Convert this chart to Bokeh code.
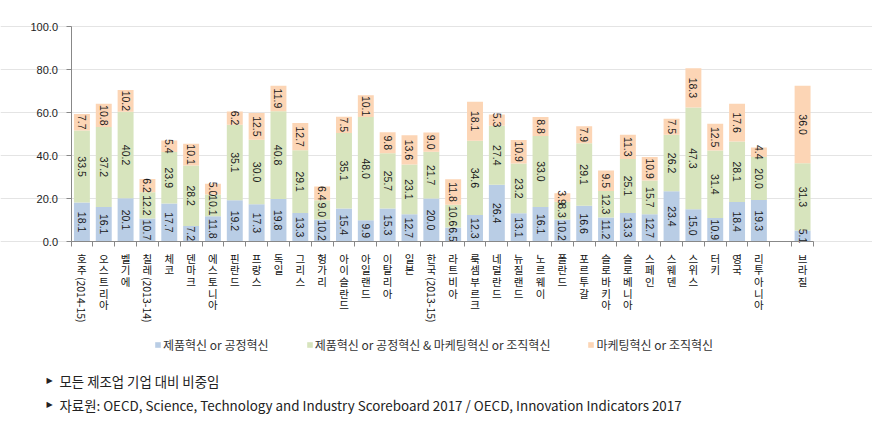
import numpy as np
from bokeh.plotting import figure
from bokeh.models import (ColumnDataSource, Range1d, FixedTicker, Label, Legend,
                          LegendItem, PrintfTickFormatter)
from bokeh.core.properties import value
from bokeh.embed import file_html
from bokeh.resources import INLINE

# ---------------- data ----------------
countries = ["호주(2014-15)", "오스트리아", "벨기에", "칠레(2013-14)", "체코", "덴마크",
             "에스토니아", "핀란드", "프랑스", "독일", "그리스", "헝가리", "아이슬란드",
             "아일랜드", "이탈리아", "일본", "한국(2013-15)", "라트비아", "룩셈부르크",
             "네덜란드", "뉴질랜드", "노르웨이", "폴란드", "포르투갈", "슬로바키아",
             "슬로베니아", "스페인", "스웨덴", "스위스", "터키", "영국", "리투아니아",
             "", "브라질"]
prod_or_proc = [18.1, 16.1, 20.1, 10.7, 17.7, 7.2, 11.8, 19.2, 17.3, 19.8, 13.3, 10.2, 15.4,
                9.9, 15.3, 12.7, 20.0, 6.5, 12.3, 26.4, 13.1, 16.1, 10.2, 16.6, 11.2,
                13.3, 12.7, 23.4, 15.0, 10.9, 18.4, 19.3, np.nan, 5.1]
both = [33.5, 37.2, 40.2, 12.2, 23.9, 28.2, 10.1, 35.1, 30.0, 40.8, 29.1, 9.0, 35.1,
        48.0, 25.7, 23.1, 21.7, 10.6, 34.6, 27.4, 23.2, 33.0, 8.3, 29.1, 12.3,
        25.1, 15.7, 26.2, 47.3, 31.4, 28.1, 20.0, np.nan, 31.3]
mkt_or_org = [7.7, 10.8, 10.2, 6.2, 5.4, 10.1, 5.0, 6.2, 12.5, 11.9, 12.7, 6.4, 7.5,
              10.1, 9.8, 13.6, 9.0, 11.8, 18.1, 5.3, 10.9, 8.8, 3.9, 7.9, 9.5,
              11.3, 10.9, 7.5, 18.3, 12.5, 17.6, 4.4, np.nan, 36.0]
series_names = ["제품혁신 or 공정혁신",
                "제품혁신 or 공정혁신 & 마케팅혁신 or 조직혁신",
                "마케팅혁신 or 조직혁신"]
colors = ["#B9CDE5", "#D7E4BD", "#FCD5B5"]
y_ticks = [0, 20, 40, 60, 80, 100]
bullet = "▶"
notes = ["모든 제조업 기업 대비 비중임",
         "자료원: OECD, Science, Technology and Industry Scoreboard 2017 / OECD, Innovation Indicators 2017"]

# ---------------- layout (pixels) ----------------
W, H = 872, 428
FL, FR = 70.5, 813.0      # left / right edge of plotting area
PY0, PY100 = 241.0, 26.0  # pixel rows of y=0 and y=100
KFONT = "Noto Sans CJK KR"

n = len(countries)
xs = np.arange(1, n + 1)
dx = (FR - FL) / n
dy = (PY0 - PY100) / 100.0
x_start = 0.5 - FL / dx
x_end = n + 0.5 + (W - FR) / dx
y_end = 100 + PY100 / dy
y_start = -(H - PY0) / dy


def sy(page_y):
    return H - page_y


a = np.array(prod_or_proc, dtype=float)
b = np.array(both, dtype=float)
c = np.array(mkt_or_org, dtype=float)

p = figure(width=W, height=H, output_backend="svg", toolbar_location=None,
           x_range=Range1d(x_start, x_end), y_range=Range1d(y_start, y_end),
           min_border=0, min_border_left=0, min_border_right=0,
           min_border_top=0, min_border_bottom=0)
p.outline_line_color = None
p.background_fill_color = "white"

src = ColumnDataSource(dict(x=xs, a=a, b=b, c=c))
rends = p.vbar_stack(["a", "b", "c"], x="x", width=0.73, source=src,
                     color=colors, line_color=None)

# value labels (rotated)
bottoms = [np.zeros(n), a, a + b]
vals = [a, b, c]
for bot, v in zip(bottoms, vals):
    m = ~np.isnan(v)
    lsrc = ColumnDataSource(dict(x=xs[m], y=(bot + v / 2)[m],
                                 t=["%.1f" % t for t in v[m]]))
    p.text(x="x", y="y", text="t", source=lsrc, angle=-np.pi / 2,
           text_align="center", text_baseline="middle",
           text_font=value("Liberation Sans"), text_font_size="10.5px",
           text_color="#1a1a1a")

# grid / axes
p.xgrid.visible = False
p.ygrid.ticker = FixedTicker(ticks=y_ticks)
p.ygrid.grid_line_color = "#E4E4E4"
p.ygrid.bounds = (0.5, n + 0.5)

yax = p.yaxis[0]
yax.fixed_location = 0.5
yax.bounds = (0, 100)
yax.ticker = FixedTicker(ticks=y_ticks)
yax.formatter = PrintfTickFormatter(format="%.1f")
yax.axis_line_color = "#888888"
yax.major_tick_line_color = "#888888"
yax.major_tick_out = 5
yax.major_tick_in = 0
yax.minor_tick_line_color = None
yax.major_label_standoff = 8
yax.major_label_text_font = "Liberation Sans"
yax.major_label_text_font_size = "11px"
yax.major_label_text_color = "#222222"

xax = p.xaxis[0]
xax.fixed_location = 0
xax.bounds = (0.5, n + 0.5)
xax.ticker = FixedTicker(ticks=list(xs), minor_ticks=list(np.arange(0.5, n + 1, 1.0)))
xax.axis_line_color = "#888888"
xax.major_tick_line_color = None
xax.major_tick_out = 0
xax.major_tick_in = 0
xax.minor_tick_line_color = "#888888"
xax.minor_tick_out = 5
xax.minor_tick_in = 0
xax.major_label_standoff = 4
xax.major_label_text_font = KFONT
xax.major_label_text_font_size = "10.5px"
xax.major_label_text_line_height = 0.78
xax.major_label_text_color = "#111111"

LINE = 11.7
overrides = {}
for i, name in zip(xs, countries):
    base = name.split("(")[0]
    overrides[int(i)] = "\n".join(list(base)) if base else " "
    if "(" in name:
        par = "(" + name.split("(", 1)[1]
        p.add_layout(Label(x=int(i), y=sy(252 + LINE * len(base) + 1), x_units="data",
                           y_units="screen", text=par, angle=-np.pi / 2,
                           text_align="left", text_baseline="middle",
                           text_font=KFONT, text_font_size="10.5px",
                           text_color="#111111"))
xax.major_label_overrides = overrides

# legend
legend = Legend(items=[LegendItem(label=nm, renderers=[r]) for nm, r in zip(series_names, rends)],
                orientation="horizontal", location=(154, sy(354)),
                glyph_width=7, glyph_height=7, label_standoff=2, spacing=37,
                padding=0, margin=0, border_line_color=None,
                background_fill_alpha=0, label_text_font=KFONT,
                label_text_font_size="12px", label_text_color="#333333",
                label_height=20)
p.add_layout(legend, "center")

# footnotes
for k, (note, py) in enumerate(zip(notes, [380, 404])):
    p.add_layout(Label(x=46, y=sy(py), x_units="screen", y_units="screen", text=bullet,
                       text_font="DejaVu Sans", text_font_size="8px",
                       text_baseline="middle", text_color="#222222"))
    p.add_layout(Label(x=59, y=sy(py), x_units="screen", y_units="screen", text=note,
                       text_font=KFONT, text_font_size="13.4px",
                       text_baseline="middle", text_color="#222222"))

open("out.html", "w").write(file_html(p, INLINE))
